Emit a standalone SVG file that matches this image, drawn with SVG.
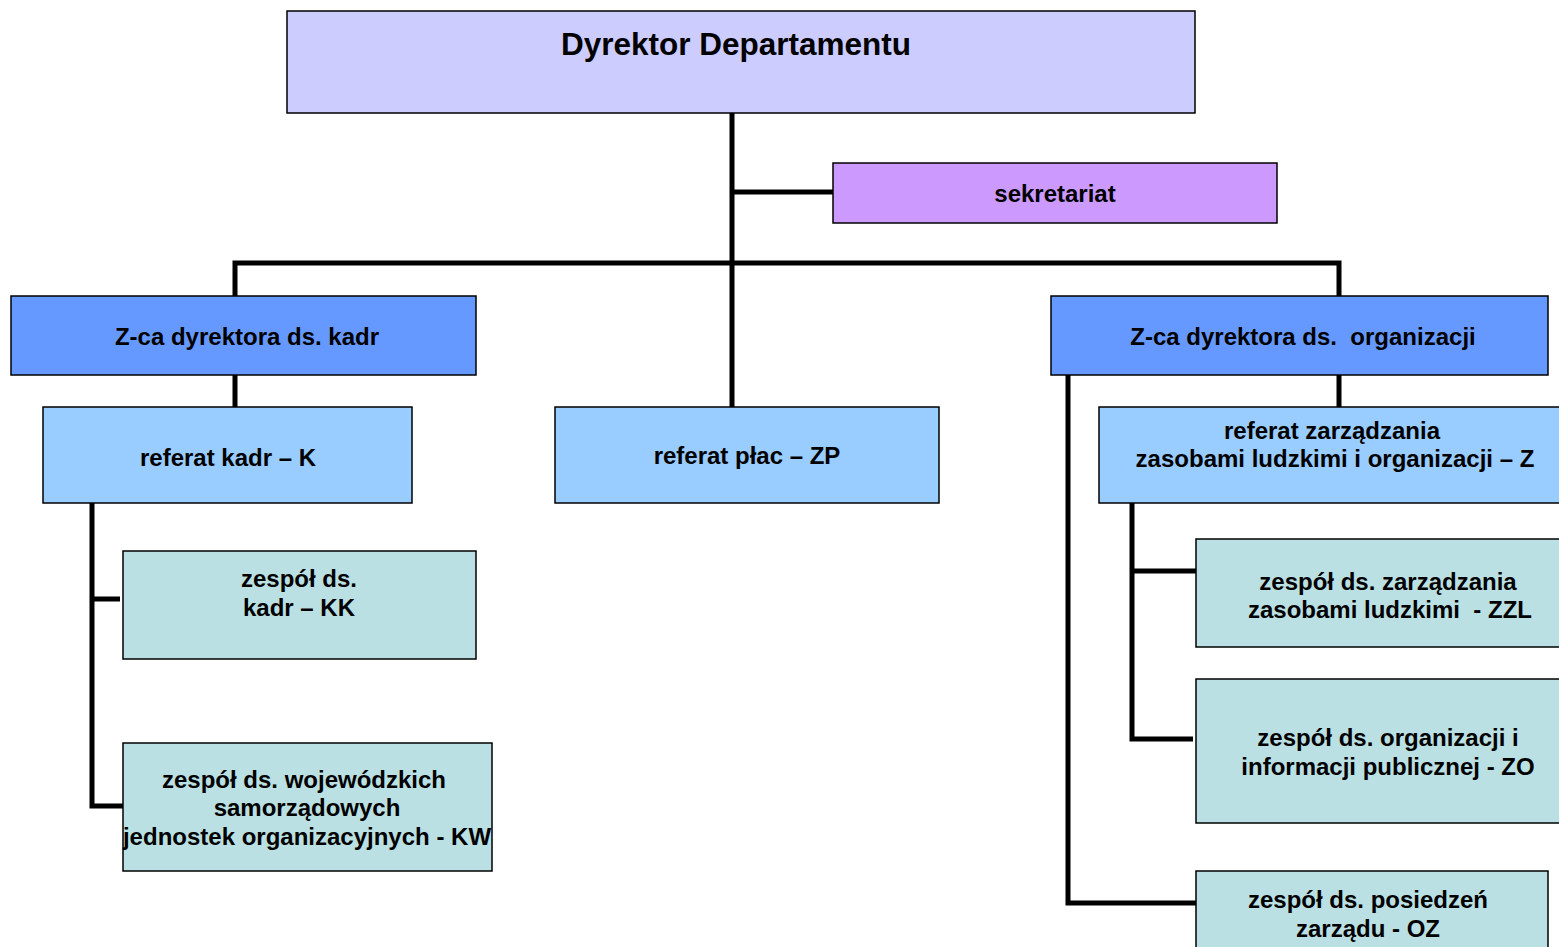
<svg xmlns="http://www.w3.org/2000/svg" width="1559" height="947" viewBox="0 0 1559 947">
<style>
.b{stroke:#000;stroke-width:1.5}
.t{font-family:"Liberation Sans",Arial,sans-serif;font-weight:bold;font-size:24px;fill:#000;text-anchor:middle;white-space:pre}
.c{stroke:#000;stroke-width:5;fill:none}
</style>
<rect width="1559" height="947" fill="#fff"/>
<g id="connectors">
<path class="c" d="M732 113V407M732 192H833M235 296V263H1339V296M235 375V407M92 503V806H123M92 599H120M1339 375V407M1068 375V903H1196M1132 503V739H1193M1132 571H1196"/>
</g>
<g id="n-dyrektor">
<rect x="287" y="11" width="908" height="102" fill="#CCCCFF" class="b"/>
<text x="736" y="55" class="t" style="font-size:31.5px">Dyrektor Departamentu</text>
</g>
<g id="n-sekretariat">
<rect x="833" y="163" width="444" height="60" fill="#CC99FF" class="b"/>
<text x="1055" y="202" class="t">sekretariat</text>
</g>
<g id="n-zca-kadr">
<rect x="11" y="296" width="465" height="79" fill="#6699FF" class="b"/>
<text x="247" y="345" class="t">Z-ca dyrektora ds. kadr</text>
</g>
<g id="n-zca-org">
<rect x="1051" y="296" width="497" height="79" fill="#6699FF" class="b"/>
<text x="1303" y="345" class="t" xml:space="preserve">Z-ca dyrektora ds.  organizacji</text>
</g>
<g id="n-ref-kadr">
<rect x="43" y="407" width="369" height="96" fill="#99CCFF" class="b"/>
<text x="228" y="466" class="t">referat kadr – K</text>
</g>
<g id="n-ref-plac">
<rect x="555" y="407" width="384" height="96" fill="#99CCFF" class="b"/>
<text x="747" y="464" class="t">referat płac – ZP</text>
</g>
<g id="n-ref-z">
<rect x="1099" y="407" width="470" height="96" fill="#99CCFF" class="b"/>
<text class="t"><tspan x="1332" y="439">referat zarządzania</tspan><tspan x="1335" y="467">zasobami ludzkimi i organizacji – Z</tspan></text>
</g>
<g id="n-kk">
<rect x="123" y="551" width="353" height="108" fill="#BBE0E3" class="b"/>
<text class="t"><tspan x="299" y="587">zespół ds.</tspan><tspan x="299" y="616">kadr – KK</tspan></text>
</g>
<g id="n-kw">
<rect x="123" y="743" width="369" height="128" fill="#BBE0E3" class="b"/>
<text class="t"><tspan x="304" y="788">zespół ds. wojewódzkich</tspan><tspan x="307" y="816">samorządowych</tspan><tspan x="307" y="845">jednostek organizacyjnych - KW</tspan></text>
</g>
<g id="n-zzl">
<rect x="1196" y="539" width="373" height="108" fill="#BBE0E3" class="b"/>
<text class="t" xml:space="preserve"><tspan x="1388" y="590">zespół ds. zarządzania</tspan><tspan x="1390" y="618">zasobami ludzkimi  - ZZL</tspan></text>
</g>
<g id="n-zo">
<rect x="1196" y="679" width="373" height="144" fill="#BBE0E3" class="b"/>
<text class="t"><tspan x="1388" y="746">zespół ds. organizacji i</tspan><tspan x="1388" y="775">informacji publicznej - ZO</tspan></text>
</g>
<g id="n-oz">
<rect x="1196" y="871" width="352" height="90" fill="#BBE0E3" class="b"/>
<text class="t"><tspan x="1368" y="908">zespół ds. posiedzeń</tspan><tspan x="1368" y="937">zarządu - OZ</tspan></text>
</g>
</svg>
